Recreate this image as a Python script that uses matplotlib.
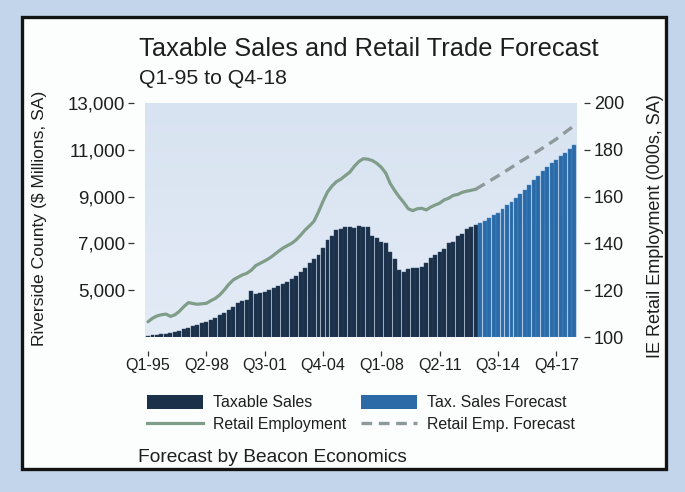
import matplotlib
matplotlib.use("Agg")
import matplotlib.pyplot as plt
import numpy as np
from matplotlib.colors import LinearSegmentedColormap
from matplotlib.lines import Line2D
from matplotlib.patches import Patch, Rectangle

plt.rcParams["font.family"] = ["Liberation Sans", "DejaVu Sans"]

W, H = 685, 492

years = list(range(1995, 2019))
quarters = [f"Q{q}-{y % 100:02d}" for y in years for q in range(1, 5)]

# Riverside County taxable sales ($ millions, SA), Q1-95 .. Q2-13
sales_hist = [
    3060, 3080, 3100, 3120,
    3140, 3170, 3210, 3260,
    3330, 3390, 3450, 3510,
    3590, 3660, 3740, 3820,
    3920, 4040, 4170, 4300,
    4440, 4540, 4600, 4950,
    4850, 4870, 4920, 5000,
    5080, 5160, 5260, 5360,
    5480, 5620, 5780, 5960,
    6150, 6320, 6520, 6800,
    7150, 7320, 7560, 7600,
    7720, 7680, 7650, 7760,
    7700, 7700, 7300, 7250,
    7050, 7000, 6650, 6350,
    5880, 5790, 5900, 5930,
    5960, 6000, 6150, 6380,
    6520, 6640, 6780, 7000,
    7050, 7320, 7400, 7620,
    7680, 7790,
]
# forecast, Q3-13 .. Q4-18
sales_fcst = [
    7880, 7960,
    8080, 8200, 8320, 8450,
    8620, 8760, 8960, 9100,
    9300, 9480, 9720, 9900,
    10100, 10280, 10420, 10560,
    10720, 10880, 11040, 11200,
]

# IE retail employment (000s, SA), Q1-95 .. Q2-13
emp_hist = [
    106.5, 108.0, 109.0, 109.5,
    109.8, 108.8, 109.5, 111.0,
    113.0, 114.7, 114.3, 114.0,
    114.2, 114.4, 115.5, 116.5,
    118.0, 120.1, 122.5, 124.4,
    125.5, 126.5, 127.2, 128.5,
    130.5, 131.5, 132.5, 133.6,
    135.0, 136.5, 137.9, 139.0,
    140.0, 141.5, 143.5, 145.7,
    147.5, 149.5, 153.5, 158.0,
    162.0, 164.5, 166.4, 167.5,
    169.0, 170.5, 173.0, 175.0,
    176.2, 176.0, 175.4, 174.2,
    172.5, 170.0, 165.5, 162.5,
    159.8, 157.5, 154.8, 154.0,
    154.8, 155.0, 154.3, 155.5,
    156.4, 157.2, 158.6, 159.3,
    160.5, 160.9, 161.8, 162.3,
    162.7, 163.1,
]
emp_fcst_quarters = ["Q2-13", "Q4-14", "Q4-15", "Q4-16", "Q4-17", "Q4-18"]
emp_fcst = [163.1, 170.0, 175.0, 179.6, 184.6, 190.4]

tick_labels = ["Q1-95", "Q2-98", "Q3-01", "Q4-04", "Q1-08", "Q2-11", "Q3-14", "Q4-17"]
sales_ticks = [5000, 7000, 9000, 11000, 13000]
emp_ticks = [100, 120, 140, 160, 180, 200]

NAVY = "#1b3049"
BLUE = "#2b6aa6"
GREEN = "#7f9d89"
GREY = "#8d999b"
TXT = "#1e1e1e"


def fx(px):
    return px / W


def fy(py):
    return 1 - py / H


fig = plt.figure(figsize=(W / 100, H / 100), dpi=100)
fig.patch.set_facecolor("#c3d5eb")
fig.patches.append(
    Rectangle((fx(22), fy(469)), fx(666 - 22), (469 - 17) / H, transform=fig.transFigure,
              facecolor="#fcfdfd", edgecolor="#141414", linewidth=2.4, zorder=-1)
)

ax = fig.add_axes([fx(145.3), fy(337), fx(577 - 145.3), (337 - 103) / H])

# plot area background, light blue
bg = LinearSegmentedColormap.from_list("bg", ["#e3ebf6", "#d8e3f1"])
ax.imshow(np.linspace(0, 1, 64).reshape(-1, 1), cmap=bg, origin="lower", aspect="auto",
          extent=[0, 1, 0, 1], transform=ax.transAxes, zorder=0)

n_hist = len(sales_hist)
x_hist = np.arange(n_hist)
x_fcst = np.arange(n_hist, n_hist + len(sales_fcst))
ax.bar(x_hist, np.array(sales_hist) - 3000, bottom=3000, width=0.88, color=NAVY,
       edgecolor="#2c4763", linewidth=0.3, zorder=2)
ax.bar(x_fcst, np.array(sales_fcst) - 3000, bottom=3000, width=0.88, color=BLUE,
       edgecolor="#4a8ccb", linewidth=0.3, zorder=2)

ax.set_xlim(-0.6, 95.6)
ax.set_ylim(3000, 13000)

ax2 = ax.twinx()
ax2.plot(np.arange(len(emp_hist)), emp_hist, color=GREEN, linewidth=2.3, solid_capstyle="round", zorder=3)
ax2.plot([quarters.index(q) for q in emp_fcst_quarters], emp_fcst, color=GREY, linewidth=2.4,
         dashes=(3.2, 2.0), zorder=3)
ax2.set_ylim(100, 200)

for a in (ax, ax2):
    for s in a.spines.values():
        s.set_visible(False)

ax.spines["left"].set_position(("outward", 8))
ax.spines["bottom"].set_position(("outward", 10))
ax2.spines["right"].set_position(("outward", 5))

ax.set_yticks(sales_ticks)
ax.set_yticklabels([f"{v:,}" for v in sales_ticks])
ax.set_xticks([quarters.index(q) for q in tick_labels])
ax.set_xticklabels(tick_labels)
ax2.set_yticks(emp_ticks)

ax.tick_params(axis="y", direction="out", length=4.3, width=0.9, pad=2, labelsize=13.5,
               color="#333333", labelcolor=TXT)
ax.tick_params(axis="x", direction="out", length=3.6, width=0.9, pad=1.5, labelsize=11.6,
               color="#333333", labelcolor=TXT)
ax2.tick_params(axis="y", direction="out", length=4.3, width=0.9, pad=3, labelsize=13,
                color="#333333", labelcolor=TXT)

fig.text(fx(139), fy(49), "Taxable Sales and Retail Trade Forecast", fontsize=18.3,
         color=TXT, ha="left", va="center")
fig.text(fx(139), fy(78), "Q1-95 to Q4-18", fontsize=15.3, color=TXT, ha="left", va="center")
fig.text(fx(40), fy(218), "Riverside County ($ Millions, SA)", fontsize=12.6, color=TXT,
         rotation=90, ha="center", va="center")
fig.text(fx(655), fy(226), "IE Retail Employment (000s, SA)", fontsize=13, color=TXT,
         rotation=90, ha="center", va="center")
fig.text(fx(138), fy(457), "Forecast by Beacon Economics", fontsize=13.8, color=TXT,
         ha="left", va="center")

handles = [
    Patch(facecolor=NAVY, edgecolor="none"),
    Line2D([], [], color=GREEN, linewidth=2.3),
    Patch(facecolor=BLUE, edgecolor="none"),
    Line2D([], [], color=GREY, linewidth=2.4, dashes=(3.2, 2.0)),
]
labels = ["Taxable Sales", "Retail Employment", "Tax. Sales Forecast", "Retail Emp. Forecast"]
fig.legend(handles, labels, loc="upper left", bbox_to_anchor=(fx(147), fy(395)), ncol=2,
           frameon=False, fontsize=11.4, handlelength=3.55, handleheight=0.95,
           handletextpad=0.63, columnspacing=0.9, labelspacing=0.4, borderpad=0,
           borderaxespad=0, labelcolor=TXT)

fig.savefig("out.png", dpi=100, facecolor=fig.get_facecolor())
